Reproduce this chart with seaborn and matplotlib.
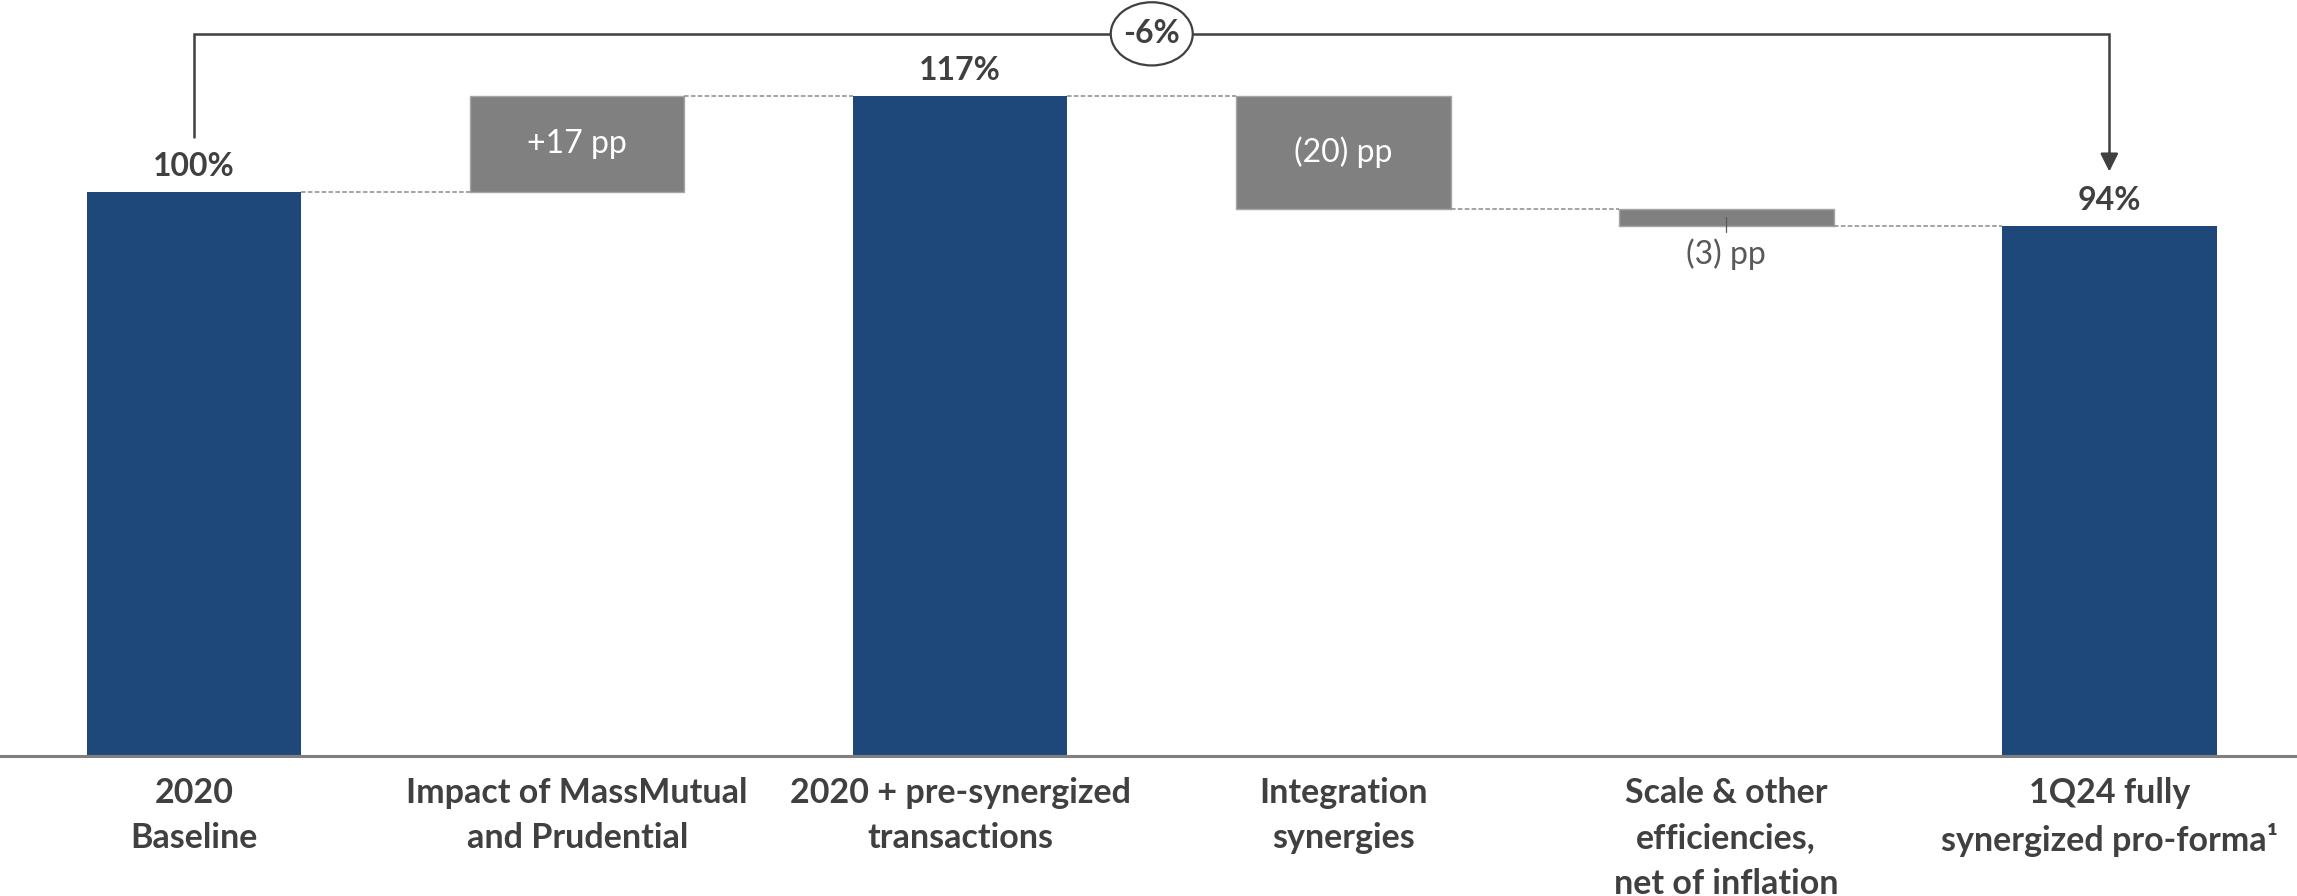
import numpy as np
import pandas as pd
import matplotlib
matplotlib.use("Agg")
import matplotlib.pyplot as plt
import seaborn as sns
from matplotlib.patches import Ellipse

# Expense ratio walk, indexed to 2020 = 100%
categories = [
    "2020\nBaseline",
    "Impact of MassMutual\nand Prudential",
    "2020 + pre-synergized\ntransactions",
    "Integration\nsynergies",
    "Scale & other\nefficiencies,\nnet of inflation",
    "1Q24 fully\nsynergized pro-forma\u00b9",
]
kinds = ["total", "delta", "total", "delta", "delta", "total"]
values = [100, 17, 117, -20, -3, 94]
value_labels = ["100%", "+17 pp", "117%", "(20) pp", "(3) pp", "94%"]
change_label = "-6%"

BLUE = "#1F487A"
GREY = "#808080"
DARK = "#404040"
FONT = ["Lato", "DejaVu Sans"]
FS = 23
FS_CAT = 24.5

# running levels for the floating bars
bottoms, heights, ends = [], [], []
level = 0.0
for k, v in zip(kinds, values):
    if k == "total":
        bottoms.append(0.0)
        heights.append(v)
        level = v
    else:
        new = level + v
        bottoms.append(min(level, new))
        heights.append(abs(v))
        level = new
    ends.append(level)

df = pd.DataFrame({"category": categories, "height": heights})

sns.set_theme(style="white")
plt.rcParams["font.family"] = FONT

fig = plt.figure(figsize=(22.97, 8.96), dpi=100)
ax = fig.add_axes([0, 0.15625, 1, 0.84375])

sns.barplot(data=df, x="category", y="height", order=categories,
            bottom=np.array(bottoms), width=0.56, color=BLUE,
            saturation=1, ax=ax)

for patch, k in zip(ax.patches, kinds):
    if k == "total":
        patch.set_facecolor(BLUE)
        patch.set_edgecolor("none")
    else:
        patch.set_facecolor(GREY)
        patch.set_edgecolor("#a6a6a6")
        patch.set_linewidth(1.0)

ax.set_xlim(-0.507, 5.49)
ax.set_ylim(0, 134.0)

# dashed connectors between consecutive bars
half = 0.28
for i in range(len(categories) - 1):
    ax.plot([i + half, i + 1 - half], [ends[i], ends[i]],
            ls=(0, (3, 1.5)), lw=1.1, color="#8c8c8c", zorder=1)

# value labels
for i, (k, v, lab) in enumerate(zip(kinds, values, value_labels)):
    if k == "total":
        ax.annotate(lab, (i, ends[i]), xytext=(0, 8), textcoords="offset points",
                    ha="center", va="bottom", fontsize=FS, fontweight="bold",
                    color=DARK)
    elif heights[i] >= 8:
        ax.text(i, bottoms[i] + heights[i] / 2, lab, ha="center", va="center",
                fontsize=FS, color="white")
    else:
        mid = bottoms[i] + heights[i] / 2
        ax.plot([i, i], [mid, bottoms[i] - 1.1], color="#595959", lw=0.9, zorder=4)
        ax.annotate(lab, (i, bottoms[i]), xytext=(0, -9), textcoords="offset points",
                    ha="center", va="top", fontsize=FS, color="#595959")

# overall change bracket
ytop = 128.0
ax.plot([0, 0, 5, 5], [109.7, ytop, ytop, 106.0], color=DARK, lw=1.8,
        solid_joinstyle="miter", zorder=3)
ax.annotate("", xy=(5, 103.6), xytext=(5, 107.0),
            arrowprops=dict(arrowstyle="-|>,head_length=0.9,head_width=0.45",
                            color=DARK, lw=1.8, shrinkA=0, shrinkB=0))
ax.add_patch(Ellipse((2.5, ytop), width=0.214, height=11.2, facecolor="white",
                     edgecolor=DARK, lw=1.6, zorder=5, clip_on=False))
ax.text(2.5, ytop, change_label, ha="center", va="center", fontsize=FS,
        fontweight="bold", color=DARK, zorder=6)

# axes styling
for s in ["top", "left", "right"]:
    ax.spines[s].set_visible(False)
ax.spines["bottom"].set_color("#7f7f7f")
ax.spines["bottom"].set_linewidth(2.2)
ax.set_yticks([])
ax.set_xlabel("")
ax.set_ylabel("")
ax.tick_params(axis="x", length=0, pad=15)
ax.set_xticks(range(len(categories)))
ax.set_xticklabels(categories, fontsize=FS_CAT, fontweight="bold", color=DARK,
                   linespacing=1.52, va="top")

fig.savefig("out.png", dpi=100)
